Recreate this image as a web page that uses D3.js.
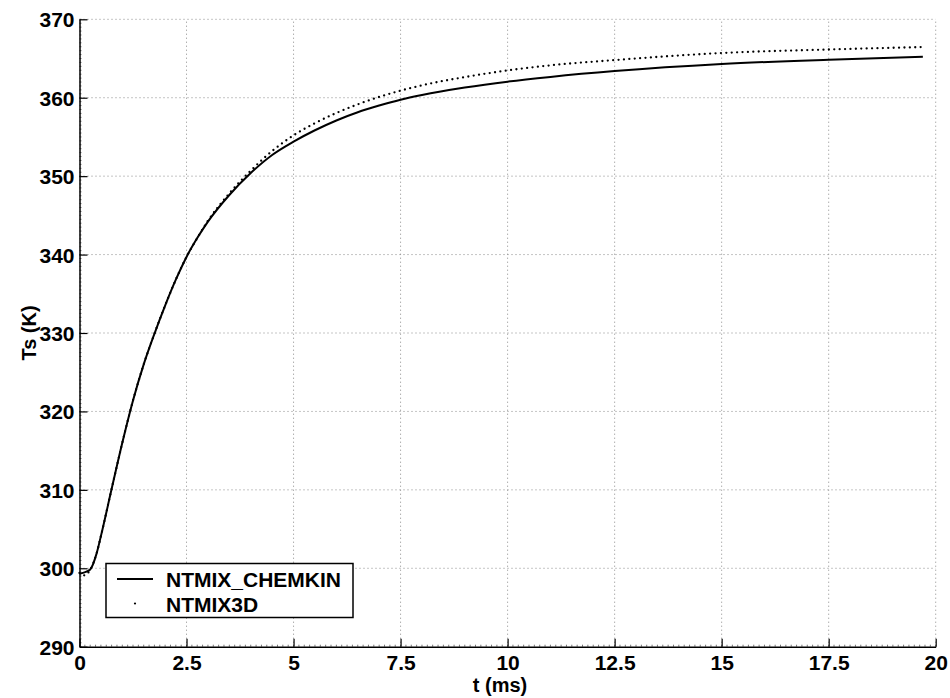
<!DOCTYPE html>
<html>
<head>
<meta charset="utf-8">
<script src="https://cdn.jsdelivr.net/npm/d3@7"></script>
<style>
  html, body { margin: 0; padding: 0; background: #fff; }
  svg { display: block; }
  text { font-family: "Liberation Sans", Arial, Helvetica, sans-serif; font-weight: bold; fill: #000; }
</style>
</head>
<body>
<svg id="chart" width="950" height="698"></svg>
<script>
// ---- data ----
const timeMs = [0, 0.1, 0.25, 0.4, 0.5, 0.75, 1, 1.25, 1.5, 1.75, 2, 2.25, 2.5, 2.75, 3, 3.5, 4, 4.5, 5, 5.5, 6, 6.5, 7, 7.5, 8, 9, 10, 11, 12.5, 15, 17.5, 19.7];
const chemkinTs = [299.3, 299.45, 299.85, 301.9, 304.1, 310.1, 316.0, 321.4, 326.0, 329.9, 333.5, 336.8, 339.7, 342.1, 344.2, 347.6, 350.4, 352.7, 354.4, 355.85, 357.1, 358.15, 359.0, 359.75, 360.35, 361.3, 362.05, 362.65, 363.4, 364.3, 364.85, 365.22];
const ntmix3dTs = [299.4, 299.1, 299.8, 301.9, 304.1, 310.1, 316.0, 321.4, 326.0, 329.9, 333.5, 336.8, 339.7, 342.1, 344.3, 347.8, 350.7, 353.2, 355.2, 356.75, 358.05, 359.15, 360.1, 360.9, 361.58, 362.63, 363.48, 364.13, 364.8, 365.7, 366.15, 366.46];
const seriesNames = ["NTMIX_CHEMKIN", "NTMIX3D"];
const xTicks = [0, 2.5, 5, 7.5, 10, 12.5, 15, 17.5, 20];
const xTickLabels = ["0", "2.5", "5", "7.5", "10", "12.5", "15", "17.5", "20"];
const yTicks = [290, 300, 310, 320, 330, 340, 350, 360, 370];
const xLabel = "t (ms)";
const yLabel = "Ts (K)";

// ---- layout ----
const pLeft = 79.5, pRight = 935.7, pTop = 19.3, pBottom = 646.7;
const svg = d3.select("#chart");
const x = d3.scaleLinear().domain([0, 20]).range([pLeft, pRight]);
const y = d3.scaleLinear().domain([290, 370]).range([pBottom, pTop]);

// grid
const grid = svg.append("g").attr("stroke", "#8a8a8a").attr("stroke-width", 1).attr("stroke-dasharray", "1,3");
grid.selectAll(".gx").data(xTicks.filter(d => d > 0)).join("line")
  .attr("x1", d => x(d)).attr("x2", d => x(d)).attr("y1", pBottom).attr("y2", pTop);
grid.selectAll(".gy").data(yTicks.filter(d => d > 290)).join("line")
  .attr("y1", d => y(d)).attr("y2", d => y(d)).attr("x1", pLeft).attr("x2", pRight);

// minor ticks
const minorX = d3.range(0, 20.0001, 0.125);
const minorY = d3.range(290, 370.0001, 0.5);
const minor = svg.append("g").attr("stroke", "#777").attr("stroke-width", 1);
minor.selectAll(".mx").data(minorX).join("line")
  .attr("x1", d => x(d)).attr("x2", d => x(d)).attr("y1", pBottom).attr("y2", pBottom - 2);
minor.selectAll(".my").data(minorY).join("line")
  .attr("y1", d => y(d)).attr("y2", d => y(d)).attr("x1", pLeft).attr("x2", pLeft + 2);

// axes
const xAxis = d3.axisBottom(x).tickValues(xTicks).tickFormat((d, i) => xTickLabels[i]).tickSizeInner(-8).tickSizeOuter(0).tickPadding(14);
const yAxis = d3.axisLeft(y).tickValues(yTicks).tickFormat(d3.format("d")).tickSizeInner(-8).tickSizeOuter(0).tickPadding(14);
const gx = svg.append("g").attr("transform", `translate(0,${pBottom})`).call(xAxis);
const gy = svg.append("g").attr("transform", `translate(${pLeft},0)`).call(yAxis);
[gx, gy].forEach(g => {
  g.select(".domain").attr("stroke", "#000").attr("stroke-width", 1.5);
  g.selectAll(".tick line").attr("stroke", "#000").attr("stroke-width", 1.2);
  g.selectAll(".tick text").style("font-size", "21px").style("font-weight", "bold").attr("fill", "#000")
    .style("font-family", '"Liberation Sans", Arial, sans-serif');
});
gx.selectAll(".tick text").attr("dy", "0.71em").attr("y", 8);
gy.selectAll(".tick text").attr("x", -5).attr("dy", "0.36em");

// axis labels
svg.append("text").attr("x", 500).attr("y", 692).attr("text-anchor", "middle")
  .style("font-size", "20px").text(xLabel);
svg.append("g").attr("transform", "translate(36,333)")
  .append("text").attr("transform", "rotate(-90)").attr("text-anchor", "middle")
  .style("font-size", "20px").text(yLabel);

// lines
const solidData = timeMs.map((t, i) => [t, chemkinTs[i]]);
const dotData = timeMs.map((t, i) => [t, ntmix3dTs[i]]);
const line = d3.line().x(d => x(d[0])).y(d => y(d[1])).curve(d3.curveMonotoneX);
svg.append("path").datum(dotData).attr("d", line).attr("fill", "none")
  .attr("stroke", "#000").attr("stroke-width", 2.3).attr("stroke-linecap", "round").attr("stroke-dasharray", "0,5.4");
svg.append("path").datum(solidData).attr("d", line).attr("fill", "none")
  .attr("stroke", "#000").attr("stroke-width", 2);

// legend
const lg = svg.append("g");
lg.append("rect").attr("x", 106).attr("y", 563.5).attr("width", 247).attr("height", 54)
  .attr("fill", "#fff").attr("stroke", "#000").attr("stroke-width", 1.5);
lg.append("line").attr("x1", 117).attr("x2", 153).attr("y1", 579).attr("y2", 579).attr("stroke", "#000").attr("stroke-width", 2);
lg.append("circle").attr("cx", 135).attr("cy", 603.5).attr("r", 1.1).attr("fill", "#000");
lg.append("text").attr("x", 166).attr("y", 587).style("font-size", "21px").text(seriesNames[0]);
lg.append("text").attr("x", 166).attr("y", 612).style("font-size", "21px").text(seriesNames[1]);
</script>
</body>
</html>
